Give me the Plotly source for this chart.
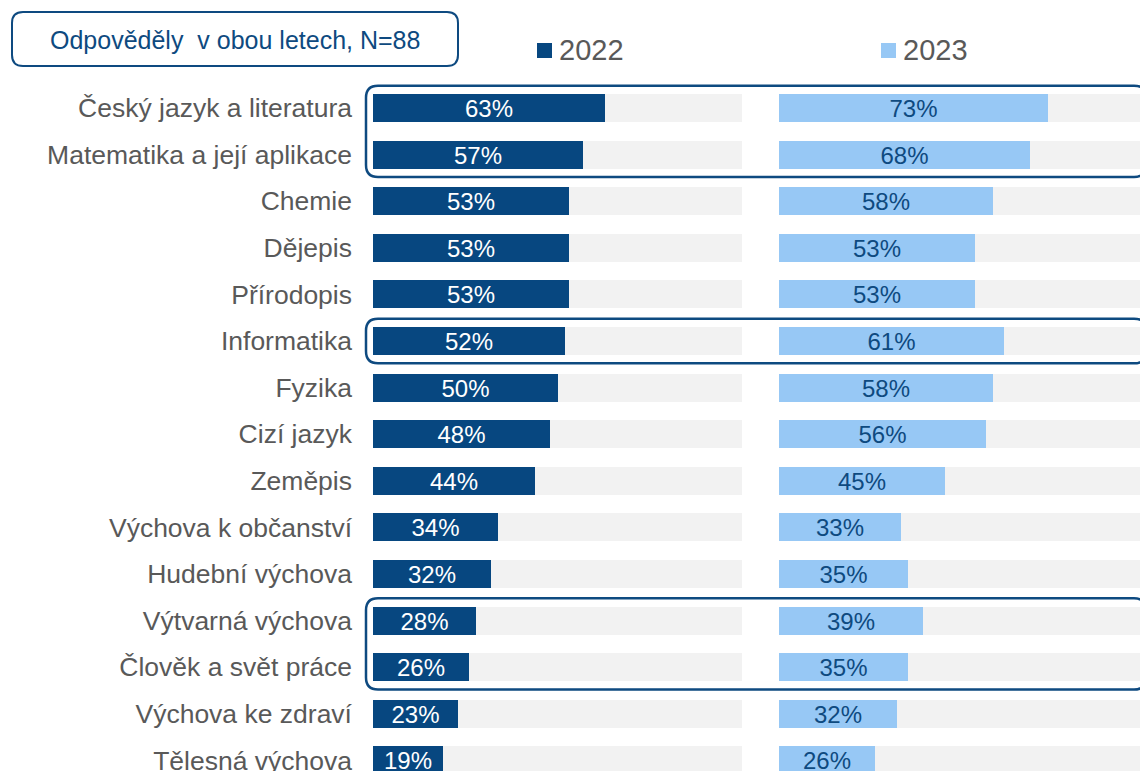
import plotly.graph_objects as go

categories = ["Český jazyk a literatura", "Matematika a její aplikace", "Chemie", "Dějepis",
              "Přírodopis", "Informatika", "Fyzika", "Cizí jazyk", "Zeměpis",
              "Výchova k občanství", "Hudební výchova", "Výtvarná výchova",
              "Člověk a svět práce", "Výchova ke zdraví", "Tělesná výchova"]
v2022 = [63, 57, 53, 53, 53, 52, 50, 48, 44, 34, 32, 28, 26, 23, 19]
v2023 = [73, 68, 58, 53, 53, 61, 58, 56, 45, 33, 35, 39, 35, 32, 26]
track = [100] * len(categories)
highlight_groups = [(0, 1), (5, 5), (11, 12)]
series_names = ["2022", "2023"]
box_text = "Odpověděly  v obou letech, N=88"

# page body has an 8px margin, so the figure starts at (8, 8) in the window
OFF = 8
W, H = 1148 - OFF, 771 - OFF
C_DARK = "#074780"
C_LIGHT = "#97C8F5"
C_TRACK = "#F2F2F2"
C_LINE = "#0E4A80"
FONT = "Liberation Sans, Arial, sans-serif"


def px(x):
    return (x - OFF) / W


def py(y):
    return 1 - (y - OFF) / H


rows = list(range(len(categories)))
row_px0, row_step = 108 - OFF, 46.6
y_top = (0 - row_px0) / row_step
y_bot = (H - row_px0) / row_step

fig = go.Figure()
for xa, vals, col, tcol in [("x", v2022, C_DARK, "white"), ("x2", v2023, C_LIGHT, C_LINE)]:
    fig.add_trace(go.Bar(y=rows, x=track, orientation="h", xaxis=xa, yaxis="y",
                         marker=dict(color=C_TRACK, line=dict(width=0)), width=0.6,
                         hoverinfo="skip", showlegend=False))
    fig.add_trace(go.Bar(y=rows, x=vals, orientation="h", xaxis=xa, yaxis="y",
                         marker=dict(color=col, line=dict(width=0)), width=0.6,
                         text=[f"{v}%" for v in vals], textposition="inside",
                         insidetextanchor="middle", textangle=0, constraintext="none",
                         textfont=dict(color=tcol, size=24, family=FONT),
                         cliponaxis=False, showlegend=False))

shapes = []


def rrect(x0, x1, y0, y1, rx, ry, xref, yref, width=2):
    p = (f"M {x0+rx},{y0} L {x1-rx},{y0} Q {x1},{y0} {x1},{y0+ry} "
         f"L {x1},{y1-ry} Q {x1},{y1} {x1-rx},{y1} L {x0+rx},{y1} "
         f"Q {x0},{y1} {x0},{y1-ry} L {x0},{y0+ry} Q {x0},{y0} {x0+rx},{y0} Z")
    return dict(type="path", path=p, xref=xref, yref=yref,
                line=dict(color=C_LINE, width=width), fillcolor="rgba(0,0,0,0)", layer="above")


for a, b in highlight_groups:
    shapes.append(rrect(px(366), px(1146), a - 0.48, b + 0.48, 12 / W, 12 / row_step,
                        "paper", "y", width=2.5))

# title box
shapes.append(rrect(px(12), px(458), py(12), py(66), 11 / W, -11 / H, "paper", "paper"))

# legend squares
for col, lx in [(C_DARK, 537), (C_LIGHT, 881)]:
    shapes.append(dict(type="rect", xref="paper", yref="paper",
                       x0=px(lx), x1=px(lx + 15), y0=py(58), y1=py(43),
                       fillcolor=col, line=dict(width=0)))

annotations = [
    dict(text=box_text, x=px(235), y=py(40), xref="paper", yref="paper",
         showarrow=False, xanchor="center", yanchor="middle",
         font=dict(color=C_LINE, size=25, family=FONT)),
    dict(text=series_names[0], x=px(557), y=py(50), xref="paper", yref="paper",
         showarrow=False, xanchor="left", yanchor="middle",
         font=dict(color="#595959", size=29, family=FONT)),
    dict(text=series_names[1], x=px(901), y=py(50), xref="paper", yref="paper",
         showarrow=False, xanchor="left", yanchor="middle",
         font=dict(color="#595959", size=29, family=FONT)),
]

fig.update_layout(
    width=W, height=H, margin=dict(l=0, r=0, t=0, b=0, autoexpand=False),
    paper_bgcolor="white", plot_bgcolor="white",
    barmode="overlay", bargap=0,
    xaxis=dict(domain=[px(373), px(742)], range=[0, 100], visible=False, fixedrange=True,
               automargin=False),
    xaxis2=dict(domain=[px(779), 1.0], range=[0, 100], visible=False, anchor="y",
                fixedrange=True, automargin=False),
    yaxis=dict(range=[y_bot, y_top], tickvals=rows, ticktext=categories,
               showgrid=False, zeroline=False, showline=False, ticks="",
               ticklabelstandoff=20, ticklabeloverflow="allow", automargin=False,
               tickfont=dict(color="#595959", size=26.5, family=FONT), fixedrange=True),
    shapes=shapes, annotations=annotations, showlegend=False,
)

fig.write_html("out.html")
